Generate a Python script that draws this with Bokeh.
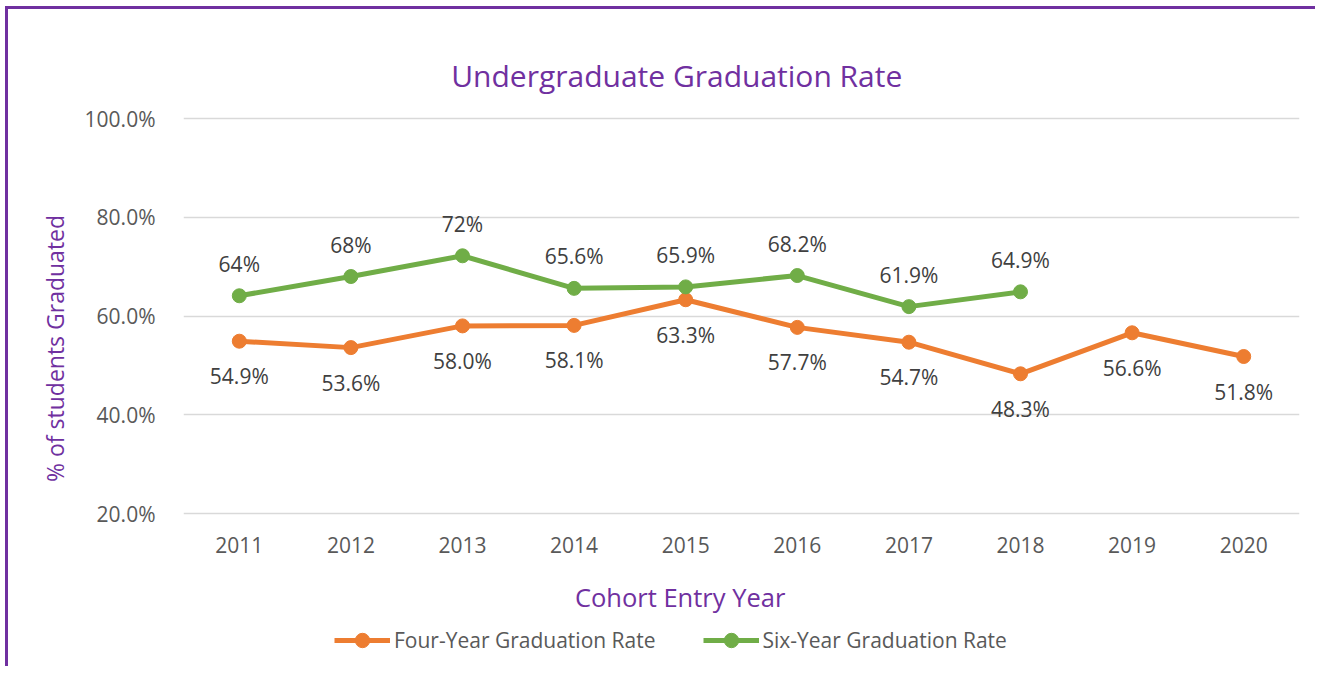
from bokeh.plotting import figure
from bokeh.models import (ColumnDataSource, Range1d, FixedTicker, PrintfTickFormatter,
                          Label, Legend, LegendItem, FactorRange)
from bokeh.core.properties import value
from bokeh.embed import file_html
from bokeh.resources import INLINE

years = ["2011", "2012", "2013", "2014", "2015", "2016", "2017", "2018", "2019", "2020"]
four_year = [54.9, 53.6, 58.0, 58.1, 63.3, 57.7, 54.7, 48.3, 56.6, 51.8]
four_labels = ["54.9%", "53.6%", "58.0%", "58.1%", "63.3%", "57.7%", "54.7%", "48.3%", "56.6%", "51.8%"]
six_years = ["2011", "2012", "2013", "2014", "2015", "2016", "2017", "2018"]
six_year = [64.1, 68.0, 72.2, 65.6, 65.9, 68.2, 61.9, 64.9]
six_labels = ["64%", "68%", "72%", "65.6%", "65.9%", "68.2%", "61.9%", "64.9%"]
y_ticks = [20, 40, 60, 80, 100]

FONT = "Open Sans"
ORANGE = "#ED7D31"
GREEN = "#70AD47"
PURPLE = "#7030A0"

# the frame spans the full height so that titles and legend live inside it
p = figure(x_range=FactorRange(*years), y_range=Range1d(-11.59, 122.08),
           width=1310, height=660, output_backend="svg", toolbar_location=None,
           min_border_left=175, min_border_right=19, min_border_top=0, min_border_bottom=0)
p.styles = {"border-left": "3px solid " + PURPLE, "border-top": "3px solid " + PURPLE,
            "position": "relative", "left": "5px", "top": "6px"}
p.outline_line_color = None
p.background_fill_color = "white"
p.border_fill_color = "white"

p.xgrid.grid_line_color = None
p.ygrid.grid_line_color = "#D9D9D9"
p.ygrid.grid_line_width = 1.5
p.yaxis.ticker = FixedTicker(ticks=y_ticks)
p.yaxis.formatter = PrintfTickFormatter(format="%.1f%%")
p.xaxis.fixed_location = 20
for ax in (p.xaxis, p.yaxis):
    ax.axis_line_color = None
    ax.major_tick_line_color = None
    ax.minor_tick_line_color = None
    ax.major_label_text_font = FONT
    ax.major_label_text_font_size = "21px"
    ax.major_label_text_color = "#595959"
p.yaxis.major_label_standoff = 22
p.xaxis.major_label_standoff = 17

p.yaxis.axis_label = "% of students Graduated" + "\u00a0" * 3
p.yaxis.axis_label_text_font = FONT
p.yaxis.axis_label_text_font_size = "23px"
p.yaxis.axis_label_text_font_style = "normal"
p.yaxis.axis_label_text_color = PURPLE
p.yaxis.axis_label_standoff = 11

src4 = ColumnDataSource(dict(x=years, y=four_year, t=four_labels))
src6 = ColumnDataSource(dict(x=six_years, y=six_year, t=six_labels))

l4 = p.line("x", "y", source=src4, line_color=ORANGE, line_width=5)
s4 = p.scatter("x", "y", source=src4, size=14, fill_color=ORANGE, line_color=ORANGE)
l6 = p.line("x", "y", source=src6, line_color=GREEN, line_width=5)
s6 = p.scatter("x", "y", source=src6, size=14, fill_color=GREEN, line_color=GREEN)

p.text("x", "y", text="t", source=src4, y_offset=35, text_align="center", text_baseline="middle",
       text_font=value(FONT), text_font_size="21px", text_color="#404040")
p.text("x", "y", text="t", source=src6, y_offset=-32, text_align="center", text_baseline="middle",
       text_font=value(FONT), text_font_size="21px", text_color="#404040")

p.add_layout(Label(x=4.42, y=108.71, text="Undergraduate Graduation Rate", text_align="center",
                   text_baseline="middle", text_font=FONT, text_font_size="30px", text_color=PURPLE))
p.add_layout(Label(x=4.45, y=3.19, text="Cohort Entry Year", text_align="center",
                   text_baseline="middle", text_font=FONT, text_font_size="25.5px", text_color=PURPLE))

legend = Legend(items=[LegendItem(label="Four-Year Graduation Rate", renderers=[l4, s4]),
                       LegendItem(label="Six-Year Graduation Rate", renderers=[l6, s6])],
                orientation="horizontal", location=(151, 11), padding=0, margin=0,
                spacing=47, glyph_width=56, glyph_height=36, label_standoff=4,
                border_line_color=None, background_fill_alpha=0,
                label_text_font=FONT, label_text_font_size="21px", label_text_color="#595959")
p.add_layout(legend)

open("out.html", "w").write(file_html(p, INLINE))
